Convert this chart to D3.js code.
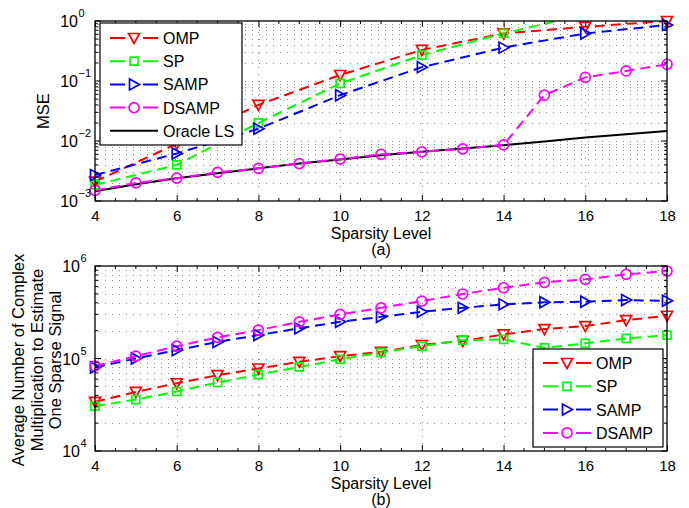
<!DOCTYPE html>
<html><head><meta charset="utf-8">
<script src="https://cdn.jsdelivr.net/npm/d3@7"></script>
<style>
body{margin:0;background:#fff;}
svg{display:block;font-family:"Liberation Sans",Arial,Helvetica,sans-serif;}
</style></head>
<body><svg id="chart" width="689" height="508"></svg>
<script>
// ---------- DATA ----------
const xAll = [4,5,6,7,8,9,10,11,12,13,14,15,16,17,18];
const xEven = [4,6,8,10,12,14,16,18];
const xTicks = [4,6,8,10,12,14,16,18];

// Panel (a): MSE
const mseOMP  = [0.0021, 0.009, 0.040, 0.126, 0.33, 0.62, 0.80, 1.0];
const mseSP   = [0.00185, 0.004, 0.020, 0.091, 0.27, 0.62, 1.3, 1.6];
const mseSAMP = [0.0027, 0.0062, 0.016, 0.058, 0.17, 0.36, 0.62, 0.86];
const mseDSAMP  = [0.0015, 0.0020, 0.0024, 0.0030, 0.0035, 0.0042, 0.0050, 0.0060, 0.0066, 0.0074, 0.0086, 0.058, 0.115, 0.147, 0.19];
const mseOracle = [0.00145, 0.0019, 0.0024, 0.0029, 0.0035, 0.0042, 0.0049, 0.0058, 0.0066, 0.0075, 0.0085, 0.0098, 0.0114, 0.0130, 0.0147];
const mseTickExp = [-3,-2,-1,0];

// Panel (b): complexity
const cOMP   = [34e3, 43.5e3, 54e3, 66e3, 78e3, 92e3, 106e3, 118e3, 140e3, 155e3, 182e3, 208e3, 224e3, 260e3, 290e3];
const cSP    = [30.5e3, 36e3, 44e3, 55e3, 67e3, 81e3, 98e3, 116e3, 136e3, 158e3, 161e3, 130e3, 146e3, 165e3, 179e3];
const cSAMP  = [80e3, 100e3, 123e3, 151e3, 179e3, 212e3, 249e3, 282e3, 320e3, 353e3, 385e3, 405e3, 411e3, 428e3, 421e3];
const cDSAMP = [83e3, 106e3, 136e3, 169e3, 203e3, 249e3, 300e3, 353e3, 418e3, 498e3, 582e3, 666e3, 718e3, 813e3, 883e3];
const cTickExp = [4,5,6];

const colors = {OMP:"#ff0000", SP:"#00ff00", SAMP:"#0000ff", DSAMP:"#ff00ff", "Oracle LS":"#000000"};
const markers = {OMP:"tdown", SP:"square", SAMP:"tright", DSAMP:"circle", "Oracle LS":null};

// ---------- DRAW ----------
const svg = d3.select("#chart");

function markerPath(type){
  const p = d3.path();
  if(type==="tdown"){ p.moveTo(-5.5,-4.5); p.lineTo(5.5,-4.5); p.lineTo(0,5.5); p.closePath(); }
  else if(type==="tright"){ p.moveTo(-4.5,-5.5); p.lineTo(-4.5,5.5); p.lineTo(5.5,0); p.closePath(); }
  else if(type==="square"){ p.rect(-4,-4,8,8); }
  else if(type==="circle"){ p.arc(0,0,5,0,2*Math.PI); p.closePath(); }
  return p.toString();
}

function panel(cfg){
  const g = svg.append("g");
  const x = d3.scaleLinear().domain([4,18]).range([cfg.left, cfg.right]);
  const yMax = Math.pow(10,cfg.exp[cfg.exp.length-1]);
  const y = d3.scaleLog().domain([Math.pow(10,cfg.exp[0]), yMax]).range([cfg.bottom, cfg.top]);
  const clipId = "clip"+cfg.id;
  svg.append("clipPath").attr("id",clipId).append("rect")
    .attr("x",cfg.left).attr("y",cfg.top).attr("width",cfg.right-cfg.left).attr("height",cfg.bottom-cfg.top);

  // grid
  const yGrid = [];
  for(let e=cfg.exp[0]; e<cfg.exp[cfg.exp.length-1]; e++) for(let m=1;m<=9;m++) if(!(m===1&&e===cfg.exp[0])) yGrid.push(m*Math.pow(10,e));
  const grid = g.append("g").attr("stroke","#000").attr("stroke-width",0.8).attr("stroke-dasharray","1,6").attr("opacity",0.55);
  grid.selectAll("line.h").data(yGrid).join("line").attr("class","h")
    .attr("x1",cfg.left+3).attr("x2",cfg.right).attr("y1",d=>Math.round(y(d))+0.5).attr("y2",d=>Math.round(y(d))+0.5);
  grid.selectAll("line.v").data(xTicks.slice(1,-1)).join("line").attr("class","v")
    .attr("y1",cfg.bottom).attr("y2",cfg.top).attr("x1",d=>Math.round(x(d))+0.5).attr("x2",d=>Math.round(x(d))+0.5);

  // series lines
  const plot = g.append("g").attr("clip-path",`url(#${clipId})`);
  cfg.draw.forEach(s=>{
    const pts = s.xs.map((xv,i)=>[xv,s.vals[i]]);
    const line = d3.line().x(d=>x(d[0])).y(d=>y(d[1]));
    plot.append("path").attr("d",line(pts)).attr("fill","none")
      .attr("stroke",colors[s.name]).attr("stroke-width",2)
      .attr("stroke-dasharray", s.name==="Oracle LS" ? null : "10,6");
  });
  const mk = g.append("g");
  cfg.draw.forEach(s=>{
    if(!markers[s.name]) return;
    const pts = s.xs.map((xv,i)=>[xv,s.vals[i]]).filter(d=>d[1]<=yMax*1.05);
    mk.selectAll(null).data(pts).join("path")
      .attr("transform",d=>`translate(${x(d[0])},${y(d[1])})`)
      .attr("d",markerPath(markers[s.name])).attr("fill","none")
      .attr("stroke",colors[s.name]).attr("stroke-width",1.7);
  });

  // axes box with inward ticks
  const ax = g.append("g");
  const minorX = d3.range(4,18.001,0.5).filter(v=>!xTicks.includes(v));
  const yMajorVals = cfg.exp.map(e=>Math.pow(10,e));
  const yMinor = yGrid.filter(v=>!yMajorVals.some(t=>Math.abs(t-v)<1e-9*t));
  const axB = d3.axisBottom(x).tickValues(xTicks).tickSizeInner(-6).tickSizeOuter(0).tickPadding(9).tickFormat(d3.format("d"));
  const gB = ax.append("g").attr("transform",`translate(0,${cfg.bottom})`).call(axB);
  gB.select(".domain").remove();
  gB.selectAll("text").attr("font-size",15).attr("fill","#000").attr("font-family","Liberation Sans, Arial, sans-serif");
  const axT = d3.axisTop(x).tickValues(xTicks).tickSizeInner(-6).tickSizeOuter(0).tickFormat("");
  const gT = ax.append("g").attr("transform",`translate(0,${cfg.top})`).call(axT); gT.select(".domain").remove();
  [cfg.bottom, cfg.top].forEach((yy,k)=>{
    ax.append("g").selectAll("line").data(minorX).join("line")
      .attr("x1",d=>x(d)).attr("x2",d=>x(d)).attr("y1",yy).attr("y2",k===0?yy-3:yy+3).attr("stroke","#000");
  });
  [[cfg.left,1],[cfg.right,-1]].forEach(([xx,dir])=>{
    ax.append("g").selectAll("line").data(yMajorVals).join("line")
      .attr("y1",d=>y(d)).attr("y2",d=>y(d)).attr("x1",xx).attr("x2",xx+dir*6).attr("stroke","#000");
    ax.append("g").selectAll("line").data(yMinor).join("line")
      .attr("y1",d=>y(d)).attr("y2",d=>y(d)).attr("x1",xx).attr("x2",xx+dir*3).attr("stroke","#000");
  });
  ax.append("rect").attr("x",cfg.left).attr("y",cfg.top).attr("width",cfg.right-cfg.left).attr("height",cfg.bottom-cfg.top)
    .attr("fill","none").attr("stroke","#000").attr("stroke-width",1.3);

  // y tick labels 10^e
  const yl = ax.append("g").attr("fill","#000");
  cfg.exp.forEach(e=>{
    yl.append("text").attr("x",cfg.labelX).attr("y",y(Math.pow(10,e))+6).attr("font-size",16).attr("text-anchor","end").text("10");
    yl.append("text").attr("x",cfg.labelX+0.5).attr("y",y(Math.pow(10,e))-4).attr("font-size",11).text(e<0?"\u2212"+(-e):String(e));
  });

  // axis titles
  g.append("text").attr("x",(cfg.left+cfg.right)/2).attr("y",cfg.xTitleY).attr("text-anchor","middle").attr("font-size",16).text("Sparsity Level");
  g.append("text").attr("x",(cfg.left+cfg.right)/2).attr("y",cfg.xTitleY+16).attr("text-anchor","middle").attr("font-size",16).text(cfg.sub);
  cfg.yTitle.forEach((line,i)=>{
    g.append("text").attr("transform",`translate(${cfg.yTitleX[i]},${cfg.yTitleY}) rotate(-90)`)
      .attr("text-anchor","middle").attr("font-size",16.5).text(line);
  });

  // legend
  const L = cfg.legend;
  const lg = g.append("g");
  lg.append("rect").attr("x",L.x).attr("y",L.y).attr("width",L.w).attr("height",L.h).attr("fill","#fff").attr("stroke","#000").attr("stroke-width",1.2);
  cfg.legendOrder.forEach((name,i)=>{
    const yy = L.y + L.first + i*L.step;
    lg.append("line").attr("x1",L.x+10).attr("x2",L.x+58).attr("y1",yy).attr("y2",yy)
      .attr("stroke",colors[name]).attr("stroke-width",2)
      .attr("stroke-dasharray", name==="Oracle LS"?null:"15,18");
    if(markers[name]) lg.append("path").attr("transform",`translate(${L.x+34},${yy})`).attr("d",markerPath(markers[name]))
      .attr("fill","none").attr("stroke",colors[name]).attr("stroke-width",1.7);
    lg.append("text").attr("x",L.x+63).attr("y",yy+6).attr("font-size",16).text(name);
  });
}

panel({
  id:"a", left:95, right:667, top:21, bottom:201, exp:mseTickExp, labelX:78,
  xTitleY:239, sub:"(a)", yTitle:["MSE"], yTitleX:[49], yTitleY:111,
  draw:[
    {name:"Oracle LS", xs:xAll, vals:mseOracle},
    {name:"OMP", xs:xEven, vals:mseOMP},
    {name:"SP", xs:xEven, vals:mseSP},
    {name:"SAMP", xs:xEven, vals:mseSAMP},
    {name:"DSAMP", xs:xAll, vals:mseDSAMP}
  ],
  legendOrder:["OMP","SP","SAMP","DSAMP","Oracle LS"],
  legend:{x:100,y:23,w:142,h:122,first:15,step:23.2}
});

panel({
  id:"b", left:95, right:667, top:266, bottom:451, exp:cTickExp, labelX:80,
  xTitleY:489, sub:"(b)", yTitle:["Average Number of Complex","Multiplication to Estimate","One Sparse Signal"], yTitleX:[24,42.5,61], yTitleY:360,
  draw:[
    {name:"OMP", xs:xAll, vals:cOMP},
    {name:"SP", xs:xAll, vals:cSP},
    {name:"SAMP", xs:xAll, vals:cSAMP},
    {name:"DSAMP", xs:xAll, vals:cDSAMP}
  ],
  legendOrder:["OMP","SP","SAMP","DSAMP"],
  legend:{x:533,y:349,w:130,h:98,first:14,step:23.3}
});
</script>
</body></html>
